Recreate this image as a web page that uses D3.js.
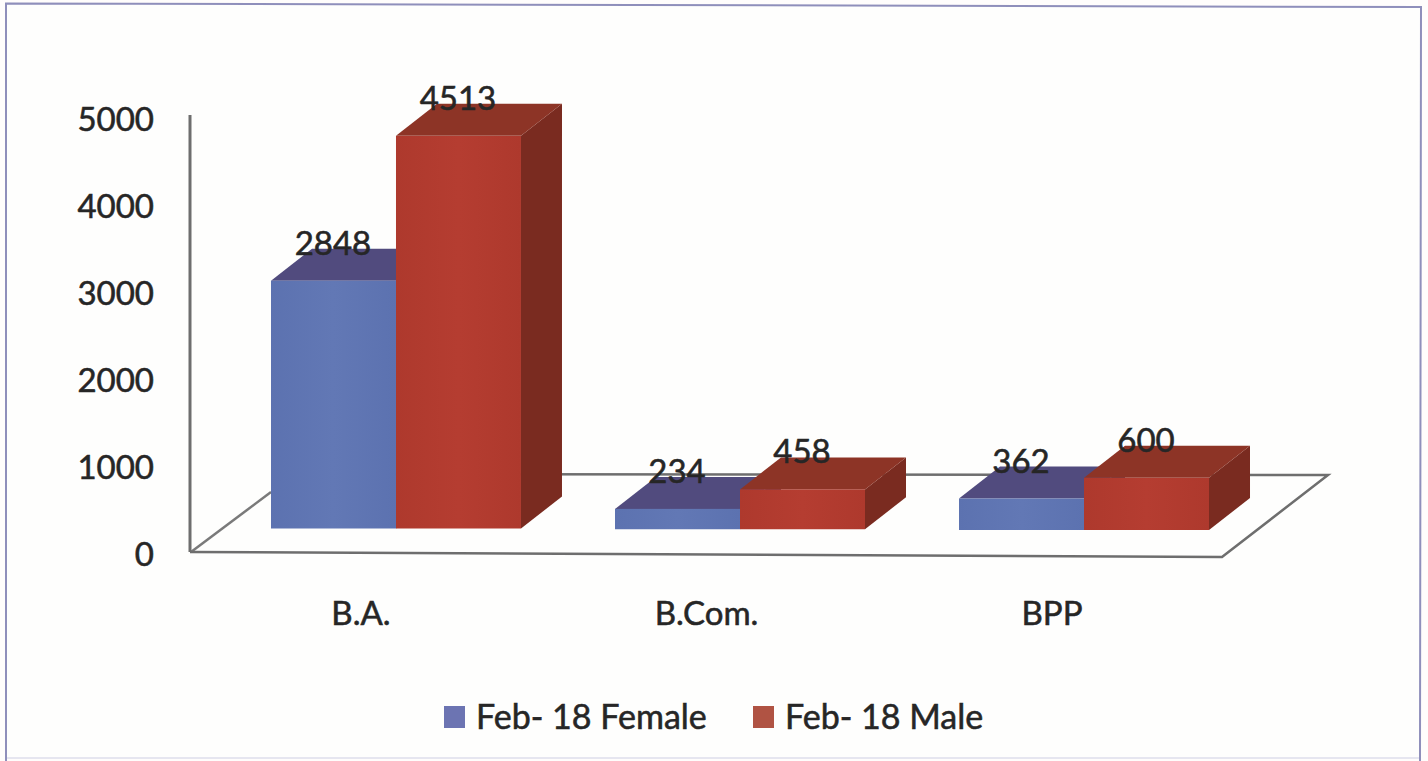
<!DOCTYPE html>
<html><head><meta charset="utf-8">
<script src="https://cdn.jsdelivr.net/npm/d3@7/dist/d3.min.js"></script>
<style>html,body{margin:0;padding:0;background:#fff;overflow:hidden}svg{display:block}text{font-family:Lato,"Open Sans",sans-serif;fill:#262626;stroke:#262626;stroke-width:.55px}</style>
</head><body><svg id="c" width="1428" height="761"></svg>
<script>
const categories = ["B.A.", "B.Com.", "BPP"];
const seriesNames = ["Feb- 18 Female", "Feb- 18 Male"];
const female = [2848, 234, 362];
const male = [4513, 458, 600];
const yTicks = [0, 1000, 2000, 3000, 4000, 5000];

const svg = d3.select("#c");
const W = 1428, H = 761;
const depthX = 41, depthY = 32;
const colors = {
  top: ["#514b7e", "#8d3426"],
  side: ["#46406e", "#7a2b20"]
};

const defs = svg.append("defs");
[["gF", "#5c72b0", "#6278b5"], ["gM", "#ae392d", "#b53d31"]].forEach(([id, a, b]) => {
  const g = defs.append("linearGradient").attr("id", id).attr("x1", 0).attr("x2", 1);
  g.append("stop").attr("offset", "0%").attr("stop-color", a);
  g.append("stop").attr("offset", "50%").attr("stop-color", b);
  g.append("stop").attr("offset", "100%").attr("stop-color", a);
});

const line = d3.line();

// page frame
svg.append("rect").attr("width", W).attr("height", H).attr("fill", "#fffdfc");
svg.append("path").attr("d", line([[6, 3.5], [1421, 7], [1420, 757], [6, 757]]) + "Z").attr("fill", "#fefefd");
svg.append("path").attr("d", line([[6, 761], [6, 3.5], [1421, 7], [1420, 761]]))
  .attr("fill", "none").attr("stroke", "#8f8fbb").attr("stroke-width", 2);
svg.append("path").attr("d", line([[7, 758], [1419, 758]]))
  .attr("fill", "none").attr("stroke", "#e6e6f0").attr("stroke-width", 2);

// scales
const y = d3.scaleLinear().domain([0, 5000]).range([550, 115]);
const x = d3.scaleBand().domain(categories).range([224, 1256]).paddingInner(0.2733).paddingOuter(0.1366);
const xSeries = d3.scaleBand().domain(seriesNames).range([0, x.bandwidth()]);
const xLabel = d3.scalePoint().domain(categories).range([361, 1052]);
const base = d3.scalePoint().domain(categories).range([528.5, 530]);

// floor
svg.append("path")
  .attr("d", line([[191, 552], [271, 492]]))
  .attr("fill", "none").attr("stroke", "#7a7a7a").attr("stroke-width", 2.5);
svg.append("path")
  .attr("d", line([[300, 474], [1328, 475], [1222, 557], [190, 552]]))
  .attr("fill", "none").attr("stroke", "#6e6e6e").attr("stroke-width", 2.5);

// y axis
const axis = d3.axisLeft(y).tickValues(yTicks).tickSize(0).tickPadding(36).tickFormat(d3.format("d"));
const ga = svg.append("g").attr("transform", "translate(190,0)").call(axis);
ga.select(".domain").attr("stroke", "#6e6e6e").attr("stroke-width", 3).attr("d", null);
ga.select(".domain").attr("d", line([[0, y(5000)], [0, y(0) + 2]]));
ga.selectAll("text").attr("font-size", 33).attr("dy", "0.46em").attr("fill", "#262626");

// bars
const data = [];
categories.forEach((c, i) => {
  data.push({ c, s: 0, v: female[i] });
  data.push({ c, s: 1, v: male[i] });
});
const bars = svg.append("g").selectAll("g").data(data).join("g");
const px = d => x(d.c) + xSeries(seriesNames[d.s]);
const pw = xSeries.bandwidth();
const pb = d => base(d.c);
const pt = d => base(d.c) - (y(0) - y(d.v));
bars.append("path").attr("fill", d => colors.side[d.s])
  .attr("d", d => line([[px(d) + pw, pt(d)], [px(d) + pw + depthX, pt(d) - depthY], [px(d) + pw + depthX, pb(d) - depthY], [px(d) + pw, pb(d)]]) + "Z");
bars.append("path").attr("fill", d => colors.top[d.s])
  .attr("d", d => line([[px(d), pt(d)], [px(d) + depthX, pt(d) - depthY], [px(d) + pw + depthX, pt(d) - depthY], [px(d) + pw, pt(d)]]) + "Z");
bars.append("rect").attr("fill", d => d.s ? "url(#gM)" : "url(#gF)")
  .attr("x", px).attr("y", pt).attr("width", pw).attr("height", d => pb(d) - pt(d));

// value labels
bars.append("text").text(d => d.v)
  .attr("x", d => px(d) + pw / 2 - 0.5)
  .attr("y", d => pt(d) - 26)
  .attr("text-anchor", "middle").attr("font-size", 33);

// category labels
svg.append("g").selectAll("text").data(categories).join("text")
  .text(d => d).attr("x", d => xLabel(d)).attr("y", 625)
  .attr("text-anchor", "middle").attr("font-size", 33);

// legend
const legendX = d3.scaleOrdinal().domain(seriesNames).range([444, 753]);
const lg = svg.append("g").selectAll("g").data(seriesNames).join("g")
  .attr("transform", d => `translate(${legendX(d)},0)`);
lg.append("rect").attr("y", 706).attr("width", 21).attr("height", 22)
  .attr("fill", (d, i) => ["#6c74b2", "#b05343"][i]);
lg.append("text").text(d => d).attr("x", 32).attr("y", 729).attr("font-size", 34);
</script></body></html>
